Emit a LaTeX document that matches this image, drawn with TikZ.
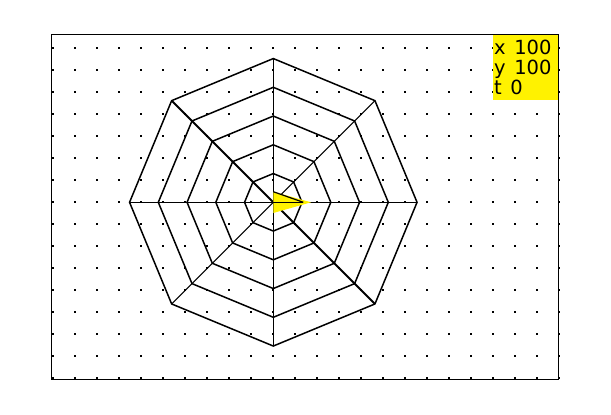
\documentclass[tikz,border=0pt]{standalone}
\usepackage{fontspec}
\newfontfamily\infofont{DejaVu Sans}
\begin{document}
\begin{tikzpicture}[x=1pt,y=-1pt,
  frameline/.style={draw=black,line width=1.1pt},
  octa/.style={draw=black,line width=1.5pt,line join=miter},
  spoke/.style={draw=black,line width=1.1pt},
  dotmark/.style={fill=black},
  infotext/.style={anchor=base west,inner sep=0pt,font=\infofont\fontsize{19.5}{20}\selectfont},
  turtlefill/.style={fill=yellow}]
\useasboundingbox (0,0) rectangle (611,415);
\fill[white] (0,0) rectangle (611,415);
\coordinate (c) at (273.3,202.3);
% dot grid
\foreach \k in {-10,...,13}
  \foreach \j in {-7,...,8}
    \fill[dotmark] ({273.3+22*\k-1},{202.3+22*\j-1}) rectangle +(2,2);
% frame
\draw[frameline] (51.3,34.3) rectangle (558.5,379.3);
% octagons
\foreach \n in {1,...,5}{
  \pgfmathsetmacro{\r}{28.75*\n}
  \draw[octa,shift={(c)}] (0:\r) \foreach \a in {45,90,...,315}{ -- (\a:\r)} -- cycle;
}
% spokes
\foreach \a in {0,90,135,180,270,315}
  \draw[spoke] (c) -- ++(\a:143.75);
\draw[spoke,line width=1.8pt] (c) -- ++(45:143.75);
\draw[spoke,line width=1.8pt] (c) -- ++(225:143.75);
% turtle
\coordinate (tb) at (273.3,191.7);
\coordinate (tt) at (311,202.3);
\coordinate (tl) at (273.3,213);
\coordinate (tm) at (303.3,202.3);
\fill[turtlefill] (tb) -- (tt) -- (tl) -- cycle;
\draw[line width=1.2pt] (tb) -- (tm);
\draw[line width=1.1pt] (c) -- (tm);
% info box
\fill[yellow] (493.3,35) rectangle (558,100);
\draw[frameline] (558.5,34.3) -- (558.5,100);
\node[infotext] (lx) at (493.8,54) {x\hspace{0.45em}100};
\node[infotext] (ly) at (493.8,74) {y\hspace{0.45em}100};
\node[infotext] (lt) at (493.8,94.3) {t\hspace{0.45em}0};
\end{tikzpicture}
\end{document}
